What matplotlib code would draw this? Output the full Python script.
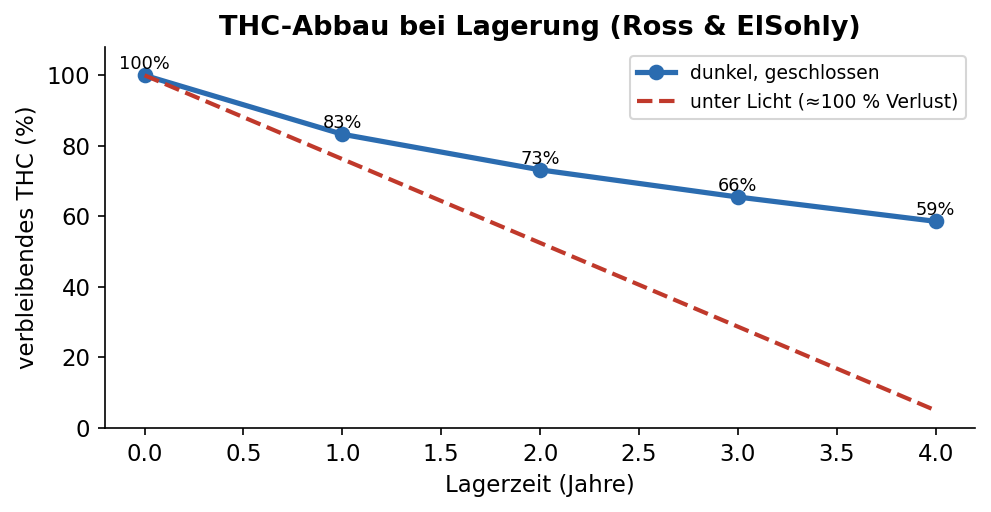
import matplotlib
matplotlib.use("Agg")
import matplotlib.pyplot as plt

# --- Data ---
years = [0, 1, 2, 3, 4]
dark_closed = [100, 83.3, 73.2, 65.5, 58.6]
dark_labels = ["100%", "83%", "73%", "66%", "59%"]
light_years = [0, 4]
light_values = [100, 5]

BLUE = "#2b6cb0"
RED = "#c0392b"

fig = plt.figure(figsize=(991 / 150, 512 / 150), dpi=150)
ax = fig.add_axes([0.106, 0.164, 0.878, 0.744])

ax.plot(years, dark_closed, "-o", color=BLUE, lw=2.5, ms=6.5, label="dunkel, geschlossen")
ax.plot(light_years, light_values, "--", color=RED, lw=2, label="unter Licht (≈100 % Verlust)")

for x, y, t in zip(years, dark_closed, dark_labels):
    ax.annotate(t, (x, y), xytext=(0, 1), textcoords="offset points",
                ha="center", va="bottom", fontsize=8.5)

ax.set_xlim(-0.2, 4.2)
ax.set_ylim(0, 108)
ax.set_title("THC-Abbau bei Lagerung (Ross & ElSohly)", fontsize=13, fontweight="bold")
ax.set_xlabel("Lagerzeit (Jahre)", fontsize=11)
ax.set_ylabel("verbleibendes THC (%)", fontsize=11)
ax.tick_params(labelsize=11)
ax.spines["top"].set_visible(False)
ax.spines["right"].set_visible(False)
ax.legend(loc="upper right", fontsize=9)

fig.savefig("out.png", dpi=150)
